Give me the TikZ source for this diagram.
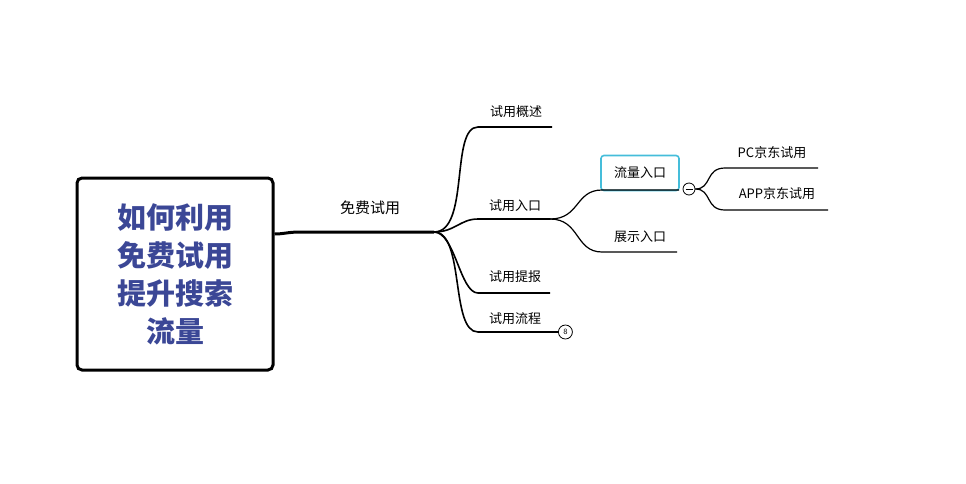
\documentclass[tikz,border=0pt]{standalone}
\usepackage{fontspec}
\newfontfamily\cjk{Noto Sans CJK SC}
\usetikzlibrary{positioning,calc}
\definecolor{titleblue}{HTML}{3B4796}
\definecolor{selcyan}{HTML}{45BDDA}
\tikzset{
    rootbox/.style={
           rectangle,
           rounded corners=5pt,
           draw=black, line width=3pt,
           minimum width=196pt, minimum height=192pt,
           align=center,
           text=titleblue,
           font=\cjk\bfseries\fontsize{29}{38}\selectfont,
           },
    leaf/.style={
           font=\cjk\fontsize{13}{15}\selectfont,
           inner sep=1pt,
           },
    branch/.style={
           line width=1.6pt,
           },
    twig/.style={
           line width=1.2pt,
           },
}
\begin{document}
\begin{tikzpicture}[x=1pt,y=-1pt]
 \useasboundingbox (0,0) rectangle (966,483);

 % root
 \node[rootbox] (ROOT) at (175,274)
  {如何利用\\免费试用\\提升搜索\\流量};

 % main branch
 \coordinate (HUB) at (434,232);
 \node[leaf, font=\cjk\fontsize{15}{17}\selectfont] (FREE) at (370,208) {免费试用};
 \draw[line width=3pt] (ROOT.east) ++(0,-40) coordinate (ROOTOUT)
   .. controls (284,234) and (288,232) .. (300,232) -- (HUB);

 % second level
 \coordinate (OVEND) at (552,127);
 \coordinate (ENEND) at (550,219);
 \coordinate (REEND) at (550,293);
 \coordinate (FLEND) at (558,332);
 \node[leaf] (OVERVIEW) at (516,112) {试用概述};
 \node[leaf] (ENTRY) at (515,206) {试用入口};
 \node[leaf] (REPORT) at (515,277) {试用提报};
 \node[leaf] (FLOW) at (515,319) {试用流程};

 \draw[branch] (HUB) .. controls (470,232) and (450,127) .. (478,127) -- (OVEND);
 \draw[branch] (HUB) .. controls (455,232) and (460,219) .. (478,219) -- (ENEND);
 \draw[branch] (HUB) .. controls (455,232) and (460,293) .. (478,293) -- (REEND);
 \draw[branch] (HUB) .. controls (465,232) and (450,332) .. (478,332) -- (FLEND);
 \node[draw, circle, line width=0.8pt, inner sep=0pt, minimum size=14pt,
   font=\sffamily\fontsize{8}{9}\selectfont, right=0pt of FLEND] (COUNT) {8};

 % third level
 \node[leaf, draw=selcyan, line width=1.6pt, rounded corners=3pt,
   minimum width=78pt, minimum height=35pt] (TRAFFIC) at (640,173) {流量入口};
 \node[leaf] (SHOW) at (640,237) {展示入口};
 \coordinate (SHEND) at (677,252);
 \draw[twig] (ENEND) .. controls (580,219) and (575,190) .. (602,190) -- (679,190);
 \draw[twig] (ENEND) .. controls (580,219) and (575,252) .. (602,252) -- (SHEND);

 % collapse button
 \node[draw, circle, fill=white, line width=0.8pt, inner sep=0pt, minimum size=12pt]
   (FOLD) at (689,189) {};
 \draw[line width=1pt] ($(FOLD)+(-3.5,0)$) -- ($(FOLD)+(3.5,0)$);

 % fourth level
 \node[leaf] (PC) at (772,153) {PC京东试用};
 \node[leaf] (APP) at (777,194) {APP京东试用};
 \coordinate (PCEND) at (818,168);
 \coordinate (APPEND) at (828,210);
 \draw[twig] (FOLD.east) .. controls (712,189) and (705,168) .. (725,168) -- (PCEND);
 \draw[twig] (FOLD.east) .. controls (712,189) and (705,210) .. (725,210) -- (APPEND);
\end{tikzpicture}
\end{document}
